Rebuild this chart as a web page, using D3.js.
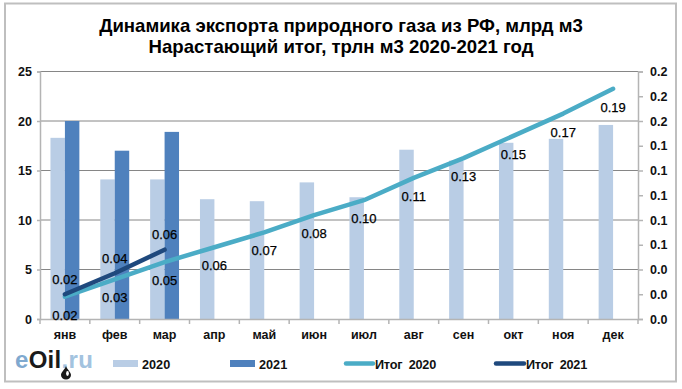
<!DOCTYPE html>
<html>
<head>
<meta charset="utf-8">
<script src="https://cdn.jsdelivr.net/npm/d3@7"></script>
<style>
    html, body { margin: 0; padding: 0; background: #fff; }
    svg { display: block; font-family: "Liberation Sans", Arial, sans-serif; }
</style>
</head>
<body>
<div id="chart"></div>
<script>
// values
const months = ['янв', 'фев', 'мар', 'апр', 'май', 'июн', 'июл', 'авг', 'сен', 'окт', 'ноя', 'дек'];
const barSeries = ['2020', '2021'];
const exports2020 = [18.3, 14.1, 14.1, 12.1, 11.9, 13.8, 12.3, 17.1, 16.0, 17.8, 18.2, 19.6];
const exports2021 = [20.0, 17.0, 18.9];
const total2020 = [0.018, 0.032, 0.046, 0.058, 0.070, 0.084, 0.096, 0.114, 0.130, 0.148, 0.166, 0.186];
const total2021 = [0.020, 0.037, 0.056];
const labels2020 = ['0.02', '0.03', '0.05', '0.06', '0.07', '0.08', '0.10', '0.11', '0.13', '0.15', '0.17', '0.19'];
const labels2021 = ['0.02', '0.04', '0.06'];
const leftTicks = [0, 5, 10, 15, 20, 25];
const rightTicks = [0, 0.02, 0.04, 0.06, 0.08, 0.10, 0.12, 0.14, 0.16, 0.18, 0.20];
const titleLines = ['Динамика экспорта природного газа из РФ, млрд м3', 'Нарастающий итог, трлн м3 2020-2021 год'];

const WIDTH = 682;
const HEIGHT = 389;
const MARGIN = { top: 71.5, right: 44, bottom: 70, left: 40 };

const COLOR_2020 = '#b9cde5';
const COLOR_2021 = '#4f81bd';
const COLOR_TOTAL_2020 = '#4bacc6';
const COLOR_TOTAL_2021 = '#1f497d';
const COLOR_GRID = '#868686';
const COLOR_AXIS = '#b4b4b4';

const svg = d3.select('#chart')
    .append('svg')
        .attr('width', WIDTH)
        .attr('height', HEIGHT);

// outer frame
svg.append('rect')
    .attr('x', 5)
    .attr('y', 3.5)
    .attr('width', 671)
    .attr('height', 378)
    .attr('fill', '#fff')
    .attr('stroke', '#bfbfbf')
    .attr('stroke-width', 2);

// title
svg.append('g')
    .selectAll('text')
    .data(titleLines)
    .join('text')
        .text(d => d)
        .attr('x', 341)
        .attr('y', (d, i) => 32 + i * 21)
        .attr('text-anchor', 'middle')
        .attr('font-size', 18.6)
        .attr('font-weight', 'bold')
        .attr('fill', '#000');

const innerRight = WIDTH - MARGIN.right;
const innerBottom = HEIGHT - MARGIN.bottom;

const x = d3.scaleBand()
    .domain(months)
    .range([MARGIN.left, innerRight])
    .paddingInner(0.42)
    .paddingOuter(0.21);

const xSeries = d3.scaleBand()
    .domain(barSeries)
    .range([0, x.bandwidth()]);

const y = d3.scaleLinear()
    .domain([0, 25])
    .range([innerBottom, MARGIN.top]);

const yRight = d3.scaleLinear()
    .domain([0, 0.2])
    .range([innerBottom, MARGIN.top]);

const centre = (month) => x(month) + x.bandwidth() / 2;

// gridlines
svg.append('g')
    .selectAll('line')
    .data(leftTicks.filter(d => d > 0))
    .join('line')
        .attr('x1', MARGIN.left)
        .attr('x2', innerRight)
        .attr('y1', d => y(d))
        .attr('y2', d => y(d))
        .attr('stroke', COLOR_GRID)
        .attr('stroke-width', 1);

// bars
svg.append('g')
    .selectAll('rect')
    .data(exports2020)
    .join('rect')
        .attr('x', (d, i) => x(months[i]) + xSeries('2020'))
        .attr('y', d => y(d))
        .attr('width', xSeries.bandwidth())
        .attr('height', d => y(0) - y(d))
        .attr('fill', COLOR_2020);

svg.append('g')
    .selectAll('rect')
    .data(exports2021)
    .join('rect')
        .attr('x', (d, i) => x(months[i]) + xSeries('2021'))
        .attr('y', d => y(d))
        .attr('width', xSeries.bandwidth())
        .attr('height', d => y(0) - y(d))
        .attr('fill', COLOR_2021);

// axes
const styleAxis = function (g) {
    g.selectAll('.domain').attr('stroke', COLOR_AXIS).attr('stroke-width', 1.5);
    g.selectAll('.tick line').attr('stroke', COLOR_AXIS).attr('stroke-width', 1.5);
    g.selectAll('text')
        .attr('font-size', 12.5)
        .attr('font-weight', 'bold')
        .attr('font-family', '"Liberation Sans", Arial, sans-serif')
        .attr('fill', '#111');
};

svg.append('g')
    .attr('transform', 'translate(' + MARGIN.left + ',0)')
    .call(d3.axisLeft(y).tickValues(leftTicks).tickSize(3).tickPadding(5))
    .call(styleAxis);

svg.append('g')
    .attr('transform', 'translate(' + innerRight + ',0)')
    .call(d3.axisRight(yRight).tickValues(rightTicks).tickFormat(d3.format('.1f')).tickSize(5).tickPadding(7))
    .call(styleAxis);

// x axis: ticks sit between the categories, labels on the centres
const xAxisGroup = svg.append('g')
    .attr('transform', 'translate(0,' + innerBottom + ')')
    .call(d3.axisBottom(x).tickSize(0).tickPadding(11))
    .call(styleAxis);

xAxisGroup.selectAll('.edge')
    .data(d3.range(months.length + 1))
    .join('line')
        .attr('class', 'edge')
        .attr('x1', d => MARGIN.left + d * x.step())
        .attr('x2', d => MARGIN.left + d * x.step())
        .attr('y1', 0)
        .attr('y2', 5)
        .attr('stroke', COLOR_AXIS)
        .attr('stroke-width', 1.5);

// cumulative lines
const line2020 = d3.line()
    .x((d, i) => centre(months[i]))
    .y(d => yRight(d));

svg.append('path')
    .datum(total2020)
    .attr('fill', 'none')
    .attr('stroke', COLOR_TOTAL_2020)
    .attr('stroke-width', 4.5)
    .attr('stroke-linecap', 'round')
    .attr('stroke-linejoin', 'round')
    .attr('d', line2020);

svg.append('path')
    .datum(total2021)
    .attr('fill', 'none')
    .attr('stroke', COLOR_TOTAL_2021)
    .attr('stroke-width', 4.5)
    .attr('stroke-linecap', 'round')
    .attr('stroke-linejoin', 'round')
    .attr('d', line2020);

// data labels: 2020 under the line, 2021 over it
svg.append('g')
    .selectAll('text')
    .data(labels2020)
    .join('text')
        .text(d => d)
        .attr('x', (d, i) => centre(months[i]))
        .attr('y', (d, i) => yRight(total2020[i]) + 23)
        .attr('text-anchor', 'middle')
        .attr('font-size', 13)
        .attr('fill', '#000')
        .attr('stroke', '#000')
        .attr('stroke-width', 0.25);

svg.append('g')
    .selectAll('text')
    .data(labels2021)
    .join('text')
        .text(d => d)
        .attr('x', (d, i) => centre(months[i]))
        .attr('y', (d, i) => yRight(total2021[i]) - 10.5)
        .attr('text-anchor', 'middle')
        .attr('font-size', 13)
        .attr('fill', '#000')
        .attr('stroke', '#000')
        .attr('stroke-width', 0.25);

// legend
const legend = svg.append('g')
    .attr('font-size', 12.7)
    .attr('font-weight', 'bold')
    .attr('fill', '#111');

const drawSwatch = function (left, colour, name) {
    legend.append('rect')
        .attr('x', left)
        .attr('y', 360)
        .attr('width', 25)
        .attr('height', 7)
        .attr('fill', colour);
    legend.append('text')
        .text(name)
        .attr('x', left + 29)
        .attr('y', 368.5);
};

const drawLineKey = function (left, right, colour, name) {
    legend.append('line')
        .attr('x1', left)
        .attr('x2', right)
        .attr('y1', 363.5)
        .attr('y2', 363.5)
        .attr('stroke', colour)
        .attr('stroke-width', 4.5)
        .attr('stroke-linecap', 'round');
    legend.append('text')
        .text(name)
        .attr('x', right + 2)
        .attr('y', 368.5)
        .attr('letter-spacing', -0.25)
        .attr('xml:space', 'preserve');
};

drawSwatch(113, COLOR_2020, '2020');
drawSwatch(230, COLOR_2021, '2021');
drawLineKey(346, 373, COLOR_TOTAL_2020, 'Итог  2020');
drawLineKey(496, 524, COLOR_TOTAL_2021, 'Итог  2021');

// eOil.ru mark
const logo = svg.append('text')
    .attr('x', 15)
    .attr('y', 368)
    .attr('font-size', 24)
    .attr('font-weight', 'bold')
    .attr('letter-spacing', 0.3);

logo.append('tspan').text('e').attr('fill', '#7fa9cf');
logo.append('tspan').text('Oil').attr('fill', '#1a1a1a');
logo.append('tspan').text('.ru').attr('fill', '#a3c3df');

// oil drop under the "l"
svg.append('path')
    .attr('d', 'M66,366 C64.5,370 61,372 61,375 A5,4.5 0 0 0 71,375 C71,372 67.5,370 66,366 Z')
    .attr('fill', '#1a1a1a');
svg.append('ellipse')
    .attr('cx', 67.5)
    .attr('cy', 373.5)
    .attr('rx', 1.4)
    .attr('ry', 2.4)
    .attr('fill', '#fff');
</script>
</body>
</html>
